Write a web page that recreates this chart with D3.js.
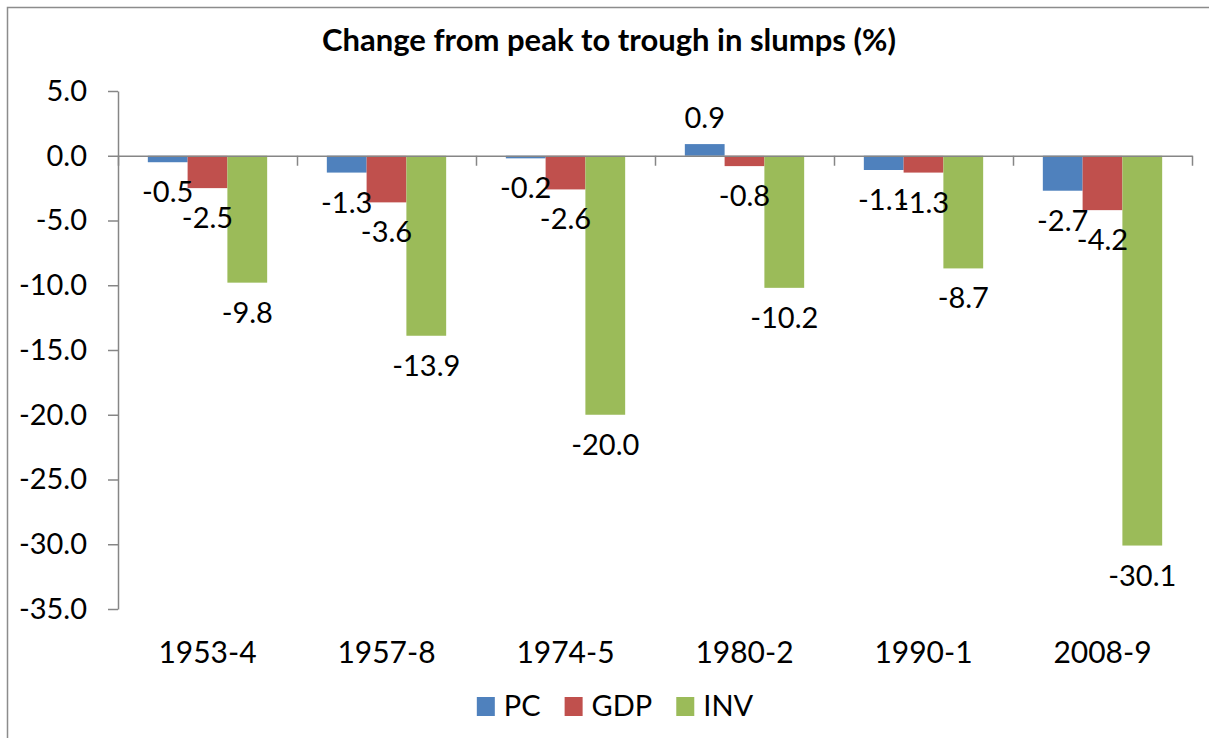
<!DOCTYPE html>
<html>
<head>
<meta charset="utf-8">
<script src="https://cdn.jsdelivr.net/npm/d3@7"></script>
<style>
    html, body { margin: 0; padding: 0; background: #fff; }
    svg { display: block; font-family: Lato, "Liberation Sans", sans-serif; }
</style>
</head>
<body>
<div id="chart"></div>
<script>
// Data.
const categories = ["1953-4", "1957-8", "1974-5", "1980-2", "1990-1", "2008-9"];
const series = ["PC", "GDP", "INV"];
const pcValues = [-0.5, -1.3, -0.2, 0.9, -1.1, -2.7];
const gdpValues = [-2.5, -3.6, -2.6, -0.8, -1.3, -4.2];
const invValues = [-9.8, -13.9, -20.0, -10.2, -8.7, -30.1];
const yTicks = [5, 0, -5, -10, -15, -20, -25, -30, -35];
const colors = ["#4F81BD", "#C0504D", "#9BBB59"];
const title = "Change from peak to trough in slumps (%)";

// Canvas dimensions and plot box.
const width = 1209, height = 738;
const plot = {left: 118, right: 1192, top: 91, bottom: 609};
const axisColor = "#868686";
const labelSize = "29px";

const svg = d3.select("#chart").append("svg")
    .attr("width", width)
    .attr("height", height);

// Chart frame (only left and top edges fall inside the picture).
svg.append("rect")
    .attr("x", 7.5).attr("y", 7.5)
    .attr("width", width + 20).attr("height", height + 20)
    .attr("fill", "none")
    .attr("stroke", "#8c8c8c")
    .attr("stroke-width", 1.5);

// Scales.
const y = d3.scaleLinear()
    .domain([d3.max(yTicks), d3.min(yTicks)])
    .range([plot.top, plot.bottom]);

const x = d3.scaleBand()
    .domain(categories)
    .range([plot.left, plot.right]);

const xInner = d3.scaleBand()
    .domain(series)
    .range([0, x.bandwidth()])
    .paddingOuter(0.75);

const xEdges = d3.scaleLinear()
    .domain([0, categories.length])
    .range([plot.left, plot.right]);

// Building a flat table for the bars.
const valuesBySeries = [pcValues, gdpValues, invValues];
const rows = [];
categories.forEach((c, i) => {
    series.forEach((s, j) => {
        rows.push({cat: c, series: s, value: valuesBySeries[j][i], color: colors[j]});
    });
});

// Title.
svg.append("text")
    .attr("x", 609)
    .attr("y", 51)
    .attr("text-anchor", "middle")
    .style("font-weight", "bold")
    .style("font-size", "31px")
    .text(title);

// Bars.
svg.append("g")
    .attr("id", "bars")
    .selectAll("rect")
    .data(rows)
    .join("rect")
        .attr("x", d => x(d.cat) + xInner(d.series))
        .attr("y", d => Math.min(y(d.value), y(0)))
        .attr("width", xInner.bandwidth())
        .attr("height", d => Math.abs(y(d.value) - y(0)))
        .attr("fill", d => d.color);

// Y axis.
const yAxis = svg.append("g")
    .attr("transform", "translate(" + plot.left + ", 0)")
    .call(d3.axisLeft(y)
        .tickValues(yTicks)
        .tickFormat(d => d.toFixed(1))
        .tickSize(10)
        .tickSizeOuter(0)
        .tickPadding(21));

yAxis.selectAll("path, line").attr("stroke", axisColor).attr("stroke-width", 1.5);
yAxis.selectAll("text")
    .attr("fill", "#000")
    .style("font-family", "Lato, 'Liberation Sans', sans-serif")
    .style("font-size", labelSize);

// X axis along zero, with ticks at category edges.
const xAxis = svg.append("g")
    .attr("transform", "translate(0, " + y(0) + ")")
    .call(d3.axisBottom(xEdges)
        .tickValues(d3.range(categories.length + 1))
        .tickFormat("")
        .tickSize(10)
        .tickSizeOuter(0));

xAxis.selectAll("path, line").attr("stroke", axisColor).attr("stroke-width", 1.5);

// Category labels below the plot.
svg.append("g")
    .selectAll("text")
    .data(categories)
    .join("text")
        .attr("x", d => x(d) + x.bandwidth() / 2)
        .attr("y", 663)
        .attr("text-anchor", "middle")
        .style("font-size", "30px")
        .text(d => d);

// Data labels, below the end of negative bars and above positive ones.
svg.append("g")
    .selectAll("text")
    .data(rows)
    .join("text")
        .attr("x", d => x(d.cat) + xInner(d.series) + xInner.bandwidth() / 2)
        .attr("y", d => d.value < 0 ? y(d.value) + 40 : y(d.value) - 16)
        .attr("text-anchor", "middle")
        .style("font-size", labelSize)
        .text(d => d.value.toFixed(1));

// Legend.
const legend = svg.append("g").attr("id", "legend");
let lx = 0;
series.forEach((s, j) => {
    const item = legend.append("g").attr("transform", "translate(" + lx + ", 0)");
    item.append("rect")
        .attr("x", 0).attr("y", -19)
        .attr("width", 18).attr("height", 19)
        .attr("fill", colors[j]);
    const t = item.append("text")
        .attr("x", 27).attr("y", 0)
        .style("font-size", labelSize)
        .text(s);
    lx += 27 + t.node().getComputedTextLength() + 24;
});
const legendWidth = lx - 24;
legend.attr("transform", "translate(" + (615 - legendWidth / 2) + ", 716)");
</script>
</body>
</html>
